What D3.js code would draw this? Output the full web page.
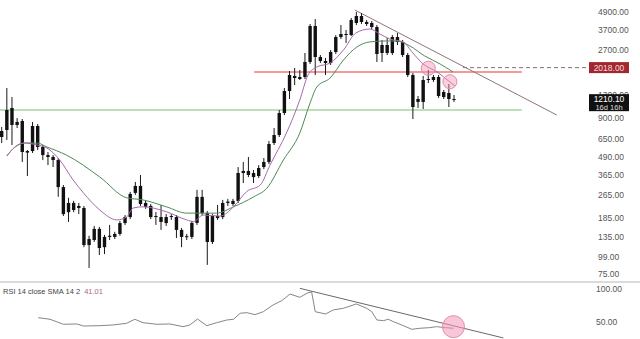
<!DOCTYPE html>
<html>
<head>
<meta charset="utf-8">
<script src="https://cdn.jsdelivr.net/npm/d3@7"></script>
<style>
    html, body { margin: 0; padding: 0; background: #ffffff; }
    #chart { width: 640px; height: 339px; }
</style>
</head>
<body>
<div id="chart"></div>
<script>
// weekly candles, log price pane + RSI pane

var opens  = [667, 746, 1060, 848, 861, 533, 533, 795, 569, 500, 485, 462, 300, 201, 233, 215, 215, 119, 129, 154,
              115, 135.5, 135.5, 142, 169, 186, 273.5, 305.5, 233, 222, 186, 186, 169, 186, 186, 151.5, 135.5, 135.5, 169.4, 256.6,
              198, 125, 189, 186, 233, 229, 240.6, 375.5, 388, 375.5, 358, 413, 448, 606, 688.6, 978, 1389, 1766, 1683, 1737,
              2208, 3920, 2390, 2243, 2172, 2590, 3287, 3449, 3394, 4111, 4596, 4179, 4111, 3856, 2548, 2895, 2548, 3287, 3039, 2467,
              1793, 1167, 1167, 1656, 1656, 1737, 1262, 1346, 1223];
var highs  = [782, 1457, 1262, 903, 889, 542, 848, 821, 587, 525, 500, 477, 310, 253, 241, 233, 222, 138, 161.5, 159,
              140, 164, 147, 175, 192, 278, 325.6, 364, 240.6, 229, 201.5, 225.7, 195, 195, 192, 156.4, 142, 175, 287, 287,
              204.7, 195, 225.7, 244.5, 248.5, 248.5, 413, 448, 485, 394, 426, 477, 626, 770, 1026, 1457, 1912, 2006, 1943, 2548,
              4046, 4381, 2467, 2352, 2673, 3394, 3981, 3677, 4454, 4900, 4822, 4313, 4244, 3981, 3136, 3236, 3394, 3505, 3136, 2548,
              1852, 1283, 1766, 1943, 1793, 1793, 1412, 1553, 1303];
var lows   = [606, 636, 587, 770, 448, 358, 517, 542, 462, 426, 413, 257, 189, 172, 201, 195, 115, 82.6, 125, 101.5,
              103, 129, 131, 138, 164, 180, 265, 222, 212, 180, 164, 151.5, 161.5, 177.7, 133, 115, 129, 131, 164, 192,
              86.7, 121, 177.7, 180, 222, 222, 233, 320, 352, 320, 346.7, 400, 433, 587, 667, 947, 1223, 1529, 1656, 1683,
              2138, 1793, 2172, 1793, 2104, 2507, 3184, 2990, 3342, 3981, 4046, 3920, 3735, 2208, 2208, 2467, 2467, 2895, 2390, 1737,
              888.5, 1060, 1043, 1579, 1605, 1243, 1223, 1076, 1167];
var closes = [734, 1026, 808, 808, 525, 520, 795, 569, 500, 485, 462, 300, 195, 233, 208, 222, 119, 131, 154, 113.5,
              135.5, 138, 142, 169, 186, 269, 305.5, 229, 219, 186, 189, 172, 186, 189, 151.5, 135.5, 137, 169.4, 256.6, 198,
              125, 189, 183, 233, 238, 240.6, 375.5, 388, 364, 352, 406.6, 448, 596.6, 688.6, 978, 1389, 1793, 1710, 1737, 2208,
              3920, 2390, 2243, 2172, 2590, 3287, 3449, 3394, 4313, 4596, 4179, 4046, 3856, 2507, 2895, 2548, 3287, 3039, 2467, 1793,
              1076, 1223, 1656, 1683, 1737, 1283, 1368, 1223, 1210.1];

// moving averages (bar index, price)
var fastIdx = [1, 2.6, 4.5, 6.9, 8.8, 11.3, 13.9, 15.9, 19.1, 22.4, 24.3, 25.6, 27.5, 32.1, 36, 37.3, 39.2, 42.5, 45.1, 47.7,
               50.3, 52.2, 55.4, 58, 59.6, 61.3, 63.9, 66.5, 68.9, 71.6, 73.6, 75.5, 78.1, 80, 82, 84.7, 87.2, 88.2];
var fastVal = [493, 569, 606, 587, 560, 462, 336, 273.5, 208, 177.7, 186, 215, 219, 202, 177.7, 173, 192, 189, 219, 280,
               310, 426, 711, 1204, 1793, 2037, 2172, 2673, 3505, 3735, 3449, 3184, 3039, 2548, 2138, 1883, 1605, 1505];
var slowIdx = [1, 2.6, 4.5, 6.9, 8.8, 12.6, 19.1, 24.3, 27.5, 32.1, 36, 38.6, 41.8, 45.1, 49, 51.6, 54.8, 58, 60, 61.3,
               63.9, 66.5, 69.1, 71.6, 74.6, 76.9, 79.4, 82.3, 85.3, 87.8];
var slowVal = [493, 569, 606, 606, 569, 500, 352, 253, 244.5, 218.6, 198, 198, 198, 219, 256.6, 295, 462, 711, 1148, 1481,
               1710, 2279, 2804, 3039, 3086, 3086, 2851, 2430, 2138, 1883];

// RSI (bar index, value)
var rsiIdx = [7.1, 9.4, 12, 14.6, 15.9, 19.1, 21.7, 24.3, 25.9, 27.5, 30.2, 32.7, 35.3, 36.6, 38.1, 39.9, 41.8, 43.8, 45.1, 46.4,
              47.7, 49.3, 50.9, 52.8, 54.5, 56.1, 58, 59.6, 60.3, 61, 63, 64.5, 66.5, 69, 71, 72, 73, 74.3, 75.2, 76.2,
              77.5, 79.8, 81.4, 83.3, 84.6, 86.3, 87.9];
var rsiVal = [56.5, 54.1, 46.5, 47, 43.9, 44.4, 45.5, 48, 54.1, 48.9, 46.5, 47, 42.9, 45.5, 54.5, 44.4, 48.9, 53, 54.1, 63.2,
              64.1, 61.1, 65.6, 75.8, 82.3, 92.4, 87.4, 94.4, 95.5, 65.6, 62.1, 68.2, 70.8, 77.3, 70.8, 65.6, 53, 52, 54.1, 50.5,
              46.5, 38.9, 40.5, 41.4, 42.9, 41.4, 40.5];

var priceTicks = [4900, 3700, 2700, 1300, 900, 650, 490, 365, 265, 185, 135, 99, 75];
var rsiTicks = [100, 50];

var lastPrice = 1210.10;
var countdown = "16d 16h";
var alertPrice = 2018;
var rsiLast = 41.01;
var resistance = 1880;
var support = 1026;
var trendIdx = [68.7, 108];
var trendVal = [5060, 947];
var rsiTrendIdx = [58, 97.6];
var rsiTrendVal = [101, 25.8];
var touchIdx = [83, 87.2];
var touchVal = [1997, 1611];
var rsiTouchIdx = 87.9;
var rsiTouchVal = 42.9;

(function() {

    var width = 640;
    var height = 339;
    var paneBottom = 282;
    var plotRight = 586;
    var font = "'Liberation Sans', Arial, sans-serif";

    var svg = d3.select("#chart")
        .append("svg")
        .attr("width", width)
        .attr("height", height);

    svg.append("rect")
        .attr("width", width)
        .attr("height", height)
        .attr("fill", "#ffffff");

    var candles = opens.map(function(o, i) {
        return { i: i, o: o, h: highs[i], l: lows[i], c: closes[i] };
    });

    var x = d3.scaleLinear().domain([0, candles.length - 1]).range([1.7, 454]);
    var y = d3.scaleLog().domain([66, 5934]).range([paneBottom, 0]);
    var yr = d3.scaleLinear().domain([24.2, 110.6]).range([height, paneBottom]);

    var defs = svg.append("defs");
    defs.append("clipPath").attr("id", "clip-price")
        .append("rect").attr("x", 0).attr("y", 0).attr("width", plotRight).attr("height", paneBottom);
    defs.append("clipPath").attr("id", "clip-rsi")
        .append("rect").attr("x", 0).attr("y", paneBottom).attr("width", plotRight).attr("height", height - paneBottom);

    var price = svg.append("g").attr("clip-path", "url(#clip-price)");

    // support / resistance
    price.append("line")
        .attr("x1", x(-1)).attr("x2", x(101.2))
        .attr("y1", y(support)).attr("y2", y(support))
        .attr("stroke", "#a6d6a3").attr("stroke-width", 1.5);

    price.append("line")
        .attr("x1", x(49.1)).attr("x2", x(101.2))
        .attr("y1", y(resistance)).attr("y2", y(resistance))
        .attr("stroke", "#f29a9a").attr("stroke-width", 2);

    // alert price line
    price.append("line")
        .attr("x1", x(candles.length - 1) + 9).attr("x2", plotRight)
        .attr("y1", y(alertPrice)).attr("y2", y(alertPrice))
        .attr("stroke", "#6b4a4a").attr("stroke-width", 0.8)
        .attr("stroke-dasharray", "4,3");

    // down trendline
    price.append("line")
        .attr("x1", x(trendIdx[0])).attr("x2", x(trendIdx[1]))
        .attr("y1", y(trendVal[0])).attr("y2", y(trendVal[1]))
        .attr("stroke", "#8f7479").attr("stroke-width", 1);

    // wicks
    price.selectAll(".wick")
        .data(candles)
        .enter()
        .append("line")
        .attr("x1", function(d) { return x(d.i); })
        .attr("x2", function(d) { return x(d.i); })
        .attr("y1", function(d) { return y(d.h); })
        .attr("y2", function(d) { return y(d.l); })
        .attr("stroke", "#1a1a1a")
        .attr("stroke-width", 1);

    // bodies
    price.selectAll(".body")
        .data(candles)
        .enter()
        .append("rect")
        .attr("x", function(d) { return x(d.i) - 1.7; })
        .attr("width", 3.4)
        .attr("y", function(d) { return y(Math.max(d.o, d.c)); })
        .attr("height", function(d) {
            return Math.max(1, Math.abs(y(d.o) - y(d.c)));
        })
        .attr("fill", "#111111");

    // moving averages
    var maLine = d3.line()
        .x(function(d) { return x(d[0]); })
        .y(function(d) { return y(d[1]); })
        .curve(d3.curveMonotoneX);

    price.append("path")
        .datum(d3.zip(slowIdx, slowVal))
        .attr("d", maLine)
        .attr("fill", "none")
        .attr("stroke", "#4f8a55")
        .attr("stroke-width", 1);

    price.append("path")
        .datum(d3.zip(fastIdx, fastVal))
        .attr("d", maLine)
        .attr("fill", "none")
        .attr("stroke", "#a66aa8")
        .attr("stroke-width", 1);

    // touch circles
    price.selectAll(".touch")
        .data(d3.zip(touchIdx, touchVal))
        .enter()
        .append("circle")
        .attr("cx", function(d) { return x(d[0]); })
        .attr("cy", function(d) { return y(d[1]); })
        .attr("r", 7)
        .attr("fill", "rgba(244,150,185,0.45)")
        .attr("stroke", "#e58aab")
        .attr("stroke-width", 1);

    // price axis
    var yAxis = d3.axisRight(y)
        .tickValues(priceTicks)
        .tickSize(0)
        .tickPadding(5)
        .tickFormat(d3.format(".2f"));

    var axisG = svg.append("g")
        .attr("transform", "translate(593,0)")
        .call(yAxis);
    axisG.select(".domain").remove();
    axisG.selectAll("text")
        .attr("fill", "#555555")
        .attr("font-size", "8.5px")
        .attr("font-family", font);

    // alert label
    svg.append("rect")
        .attr("x", 589).attr("y", y(alertPrice) - 5.5)
        .attr("width", 40).attr("height", 11)
        .attr("fill", "#a3262c");
    svg.append("text")
        .attr("x", 609).attr("y", y(alertPrice) + 3)
        .attr("text-anchor", "middle")
        .attr("fill", "#f3dede")
        .attr("font-size", "8.5px")
        .attr("font-family", font)
        .text(d3.format(".2f")(alertPrice));

    // last price label
    svg.append("rect")
        .attr("x", 589).attr("y", y(lastPrice) - 5.5)
        .attr("width", 40).attr("height", 17)
        .attr("fill", "#111111");
    svg.append("text")
        .attr("x", 609).attr("y", y(lastPrice) + 2.5)
        .attr("text-anchor", "middle")
        .attr("fill", "#ffffff")
        .attr("font-size", "8.5px")
        .attr("font-family", font)
        .text(d3.format(".2f")(lastPrice));
    svg.append("text")
        .attr("x", 609).attr("y", y(lastPrice) + 10)
        .attr("text-anchor", "middle")
        .attr("fill", "#dddddd")
        .attr("font-size", "7.5px")
        .attr("font-family", font)
        .text(countdown);

    // pane separator
    svg.append("line")
        .attr("x1", 0).attr("x2", width)
        .attr("y1", paneBottom).attr("y2", paneBottom)
        .attr("stroke", "#cfcfcf").attr("stroke-width", 1.5);

    // RSI pane
    var rsi = svg.append("g").attr("clip-path", "url(#clip-rsi)");

    var rsiLine = d3.line()
        .x(function(d) { return x(d[0]); })
        .y(function(d) { return yr(d[1]); });

    rsi.append("path")
        .datum(d3.zip(rsiIdx, rsiVal))
        .attr("d", rsiLine)
        .attr("fill", "none")
        .attr("stroke", "#8a8486")
        .attr("stroke-width", 1);

    rsi.append("line")
        .attr("x1", x(rsiTrendIdx[0])).attr("x2", x(rsiTrendIdx[1]))
        .attr("y1", yr(rsiTrendVal[0])).attr("y2", yr(rsiTrendVal[1]))
        .attr("stroke", "#6f6669").attr("stroke-width", 1);

    rsi.append("circle")
        .attr("cx", x(rsiTouchIdx))
        .attr("cy", yr(rsiTouchVal))
        .attr("r", 11)
        .attr("fill", "rgba(244,150,185,0.55)")
        .attr("stroke", "#e58aab")
        .attr("stroke-width", 1);

    var rAxis = d3.axisRight(yr)
        .tickValues(rsiTicks)
        .tickSize(0)
        .tickPadding(3)
        .tickFormat(d3.format(".2f"));

    var rAxisG = svg.append("g")
        .attr("transform", "translate(593,0)")
        .call(rAxis);
    rAxisG.select(".domain").remove();
    rAxisG.selectAll("text")
        .attr("fill", "#555555")
        .attr("font-size", "8.5px")
        .attr("font-family", font);

    // RSI legend
    var legend = svg.append("text")
        .attr("x", 3)
        .attr("y", 294)
        .attr("font-size", "7.5px")
        .attr("font-family", font)
        .attr("fill", "#444444");
    legend.append("tspan").text("RSI 14 close SMA 14 2");
    legend.append("tspan")
        .attr("dx", 4)
        .attr("fill", "#a06a88")
        .text(d3.format(".2f")(rsiLast));

})();
</script>
</body>
</html>
